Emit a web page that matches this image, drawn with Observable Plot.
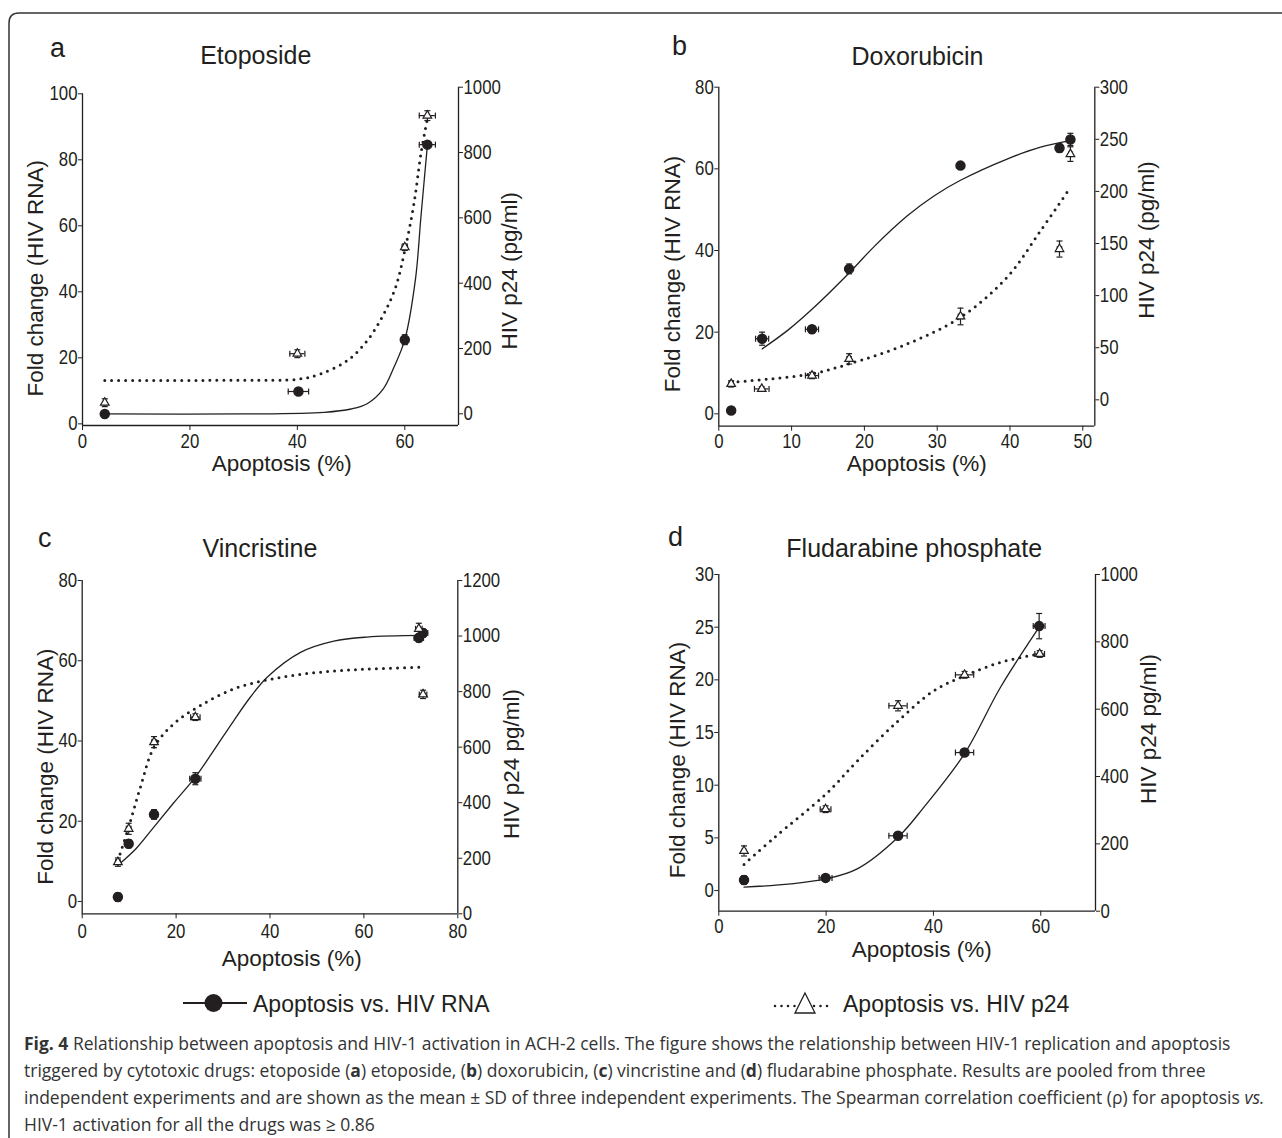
<!DOCTYPE html>
<html><head><meta charset="utf-8">
<script src="https://cdn.jsdelivr.net/npm/d3@7"></script>
<script src="https://cdn.jsdelivr.net/npm/@observablehq/plot@0.6"></script>
<style>
html,body{margin:0;padding:0;background:#fff;}
#fig{position:relative;width:1282px;height:1138px;overflow:hidden;background:#fff;}
#fig > svg{position:absolute;}
.pp text{font-family:'Liberation Sans',Arial,sans-serif;font-size:20px;fill:#231f20;}
</style></head><body><div id="fig"></div>
<script>
// ---------------- DATA ----------------
// (a) Etoposide
const etoX      = [4.15, 40.2, 60.0, 64.2];
const etoXsd    = [0.3, 1.9, 0.4, 1.5];
const etoRNA    = [3.0, 9.8, 25.5, 84.6];
const etoRNAsd  = [0.8, 0.6, 1.5, 0.6];
const etoP24X   = [4.15, 40.0, 60.0, 64.2];
const etoP24Xsd = [0.2, 1.4, 0.5, 1.5];
const etoP24    = [34, 184, 510, 913];
const etoP24sd  = [12, 12, 10, 15];
const etoFitX      = [4.15, 30, 45, 50, 53, 56, 58, 60, 62, 63, 64.2];
const etoFitRNA    = [3.0, 3.0, 3.5, 4.5, 6.1, 10.6, 17.2, 25.5, 44, 62.6, 84.3];
const etoFitP24X   = [4.15, 30, 40.2, 44.3, 49.3, 53, 56.1, 58.3, 60, 61.7, 63.0, 64.2];
const etoFitP24    = [102, 103, 106, 122, 163, 224, 306, 388, 500, 643, 796, 903];

// (b) Doxorubicin
const doxX      = [1.7, 5.95, 12.8, 17.9, 33.2, 46.8, 48.3];
const doxXsd    = [0.3, 0.9, 0.9, 0.3, 0.3, 0.3, 0.2];
const doxRNA    = [0.8, 18.4, 20.7, 35.5, 60.8, 65.1, 67.2];
const doxRNAsd  = [0.3, 1.6, 0.8, 1.2, 0.6, 1.0, 1.5];
const doxP24X   = [1.7, 5.9, 12.8, 17.9, 33.2, 46.8, 48.3];
const doxP24Xsd = [0.3, 1.0, 0.9, 0.3, 0.3, 0.3, 0.2];
const doxP24    = [15.3, 10.5, 23.3, 39.3, 80, 144.7, 235.8];
const doxP24sd  = [3, 2, 3, 5, 8, 7.7, 7];
const doxFitX      = [5.95, 9.5, 12.8, 17.9, 21.3, 25.9, 29.5, 33.2, 39.6, 44.2, 48.3];
const doxFitRNA    = [15.9, 20.5, 25.6, 34.5, 40.9, 48.5, 53.3, 57.2, 62.4, 65.3, 66.9];
const doxFitP24X   = [1.7, 7.0, 12.8, 17.9, 25.9, 33.2, 39.6, 44.2, 48.3];
const doxFitP24    = [16.9, 20, 25, 34.5, 53.7, 79.2, 117.6, 162.3, 203.8];

// (c) Vincristine
const vinX      = [7.6, 9.9, 15.3, 24.1, 71.7, 72.6];
const vinXsd    = [0.3, 0.5, 0.5, 1.2, 1.0, 1.0];
const vinRNA    = [1.1, 14.4, 21.7, 30.6, 65.7, 66.9];
const vinRNAsd  = [1.0, 1.0, 1.2, 1.5, 1.0, 1.0];
const vinP24X   = [7.6, 9.9, 15.3, 24.1, 71.7, 72.6];
const vinP24Xsd = [0.5, 0.5, 0.5, 1.0, 0.7, 0.8];
const vinP24    = [186, 306, 618, 708, 1026, 790];
const vinP24sd  = [15, 20, 20, 12, 20, 15];
const vinFitX      = [7.6, 11.5, 15.3, 19.5, 24.1, 28.0, 32.3, 35.8, 39.4, 46.5, 53.6, 60.7, 72.4];
const vinFitRNA    = [9.0, 13.2, 18.6, 24.6, 31.0, 37.6, 45.1, 50.9, 55.9, 62.1, 64.9, 65.9, 66.3];
const vinFitP24X   = [7.6, 9.9, 12.4, 15.3, 19.5, 25.2, 32.3, 39.4, 46.5, 53.6, 60.7, 72.4];
const vinFitP24    = [192, 312, 456, 600, 684, 750, 810, 842, 862, 874, 881, 888];

// (d) Fludarabine phosphate
const fluX      = [4.7, 19.9, 33.4, 45.8, 59.7];
const fluXsd    = [0.3, 1.2, 1.7, 1.7, 1.1];
const fluRNA    = [1.0, 1.2, 5.2, 13.1, 25.1];
const fluRNAsd  = [0.4, 0.3, 0.3, 0.3, 1.2];
const fluP24X   = [4.7, 19.9, 33.4, 45.8, 59.8];
const fluP24Xsd = [0.3, 1.0, 1.7, 1.7, 0.9];
const fluP24    = [179, 303, 610, 702, 764];
const fluP24sd  = [15, 10, 15, 10, 10];
const fluFitX      = [4.7, 13.4, 19.9, 25.8, 33.4, 38.2, 45.8, 52.5, 59.7];
const fluFitRNA    = [0.32, 0.63, 1.1, 2.06, 5.06, 7.9, 13.0, 19.3, 25.0];
const fluFitP24X   = [4.7, 10.3, 19.9, 25.8, 33.4, 40.1, 45.8, 52.5, 59.7];
const fluFitP24    = [139, 218, 347, 446, 565, 655, 699, 739, 764];

// tick labels
const etoXTicks = [0, 20, 40, 60];
const etoYTicks = [0, 20, 40, 60, 80, 100];
const etoRTicks = [0, 200, 400, 600, 800, 1000];
const doxXTicks = [0, 10, 20, 30, 40, 50];
const doxYTicks = [0, 20, 40, 60, 80];
const doxRTicks = [0, 50, 100, 150, 200, 250, 300];
const vinXTicks = [0, 20, 40, 60, 80];
const vinYTicks = [0, 20, 40, 60, 80];
const vinRTicks = [0, 200, 400, 600, 800, 1000, 1200];
const fluXTicks = [0, 20, 40, 60];
const fluYTicks = [0, 5, 10, 15, 20, 25, 30];
const fluRTicks = [0, 200, 400, 600, 800, 1000];

const titles  = ["Etoposide", "Doxorubicin", "Vincristine", "Fludarabine phosphate"];
const letters = ["a", "b", "c", "d"];
const xLabel  = "Apoptosis (%)";
const yLabel  = "Fold change (HIV RNA)";
const rLabels = ["HIV p24 (pg/ml)", "HIV p24 (pg/ml)", "HIV p24 pg/ml)", "HIV p24 pg/ml)"];
const legendLabels = ["Apoptosis vs. HIV RNA", "Apoptosis vs. HIV p24"];

// ---------------- helpers ----------------
const INK = "#231f20";
const FONT = "'Liberation Sans', Arial, sans-serif";
const fig = document.getElementById("fig");

const pts = (xs, ys, exs, eys) => xs.map((x, i) => ({x, y: ys[i], ex: exs[i], ey: eys[i]}));
const curve = (xs, ys) => xs.map((x, i) => ({x, y: ys[i]}));

const capH = {draw(ctx, size) { const r = Math.sqrt(size / Math.PI); ctx.moveTo(-r, 0); ctx.lineTo(r, 0); }};
const capV = {draw(ctx, size) { const r = Math.sqrt(size / Math.PI); ctx.moveTo(0, -r); ctx.lineTo(0, r); }};

function errorMarks(data) {
  const s = {stroke: INK, strokeWidth: 1.2};
  const c = {stroke: INK, strokeWidth: 1.2, fill: "none", r: 3};
  return [
    Plot.ruleX(data, {x: "x", y1: d => d.y - d.ey, y2: d => d.y + d.ey, ...s}),
    Plot.dot(data, {x: "x", y: d => d.y - d.ey, symbol: capH, ...c}),
    Plot.dot(data, {x: "x", y: d => d.y + d.ey, symbol: capH, ...c}),
    Plot.ruleY(data, {y: "y", x1: d => d.x - d.ex, x2: d => d.x + d.ex, ...s}),
    Plot.dot(data, {x: d => d.x - d.ex, y: "y", symbol: capV, ...c}),
    Plot.dot(data, {x: d => d.x + d.ex, y: "y", symbol: capV, ...c})
  ];
}

function place(svg, ox, oy) {
  svg.style.left = ox + "px";
  svg.style.top = oy + "px";
  fig.appendChild(svg);
}

function panel(cfg) {
  const common = {
    width: cfg.w, height: cfg.h, marginLeft: cfg.mL, marginRight: cfg.mR, className: "pp",
    style: {background: "transparent", color: INK, overflow: "visible", maxWidth: "none"}
  };
  const [x0, x1] = cfg.xDomain;
  const L = cfg.left, R = cfg.right;
  const p1 = Plot.plot({
    ...common, marginTop: L.mT, marginBottom: L.mB,
    x: {domain: cfg.xDomain}, y: {domain: L.domain},
    marks: [
      Plot.ruleX([{x: x0, a: L.domain[0], b: L.domain[1]}], {x: "x", y1: "a", y2: "b", stroke: INK, strokeWidth: 1.3}),
      Plot.ruleY([{y: L.domain[0], a: x0, b: x1}], {y: "y", x1: "a", x2: "b", stroke: INK, strokeWidth: 1.3}),
      Plot.axisX({ticks: cfg.xTicks, tickSize: 5, tickPadding: cfg.xPad || 3, tickFormat: "d", label: null, stroke: INK, fill: INK}),
      Plot.axisY({ticks: L.ticks, tickSize: 4, tickPadding: 1, tickFormat: "d", label: null, stroke: INK, fill: INK}),
      ...errorMarks(cfg.rna),
      Plot.line(cfg.fitRNA, {x: "x", y: "y", curve: "catmull-rom", stroke: INK, strokeWidth: 1.3}),
      Plot.dot(cfg.rna, {x: "x", y: "y", r: 4.5, fill: INK, stroke: INK})
    ]
  });
  const p2 = Plot.plot({
    ...common, marginTop: R.mT, marginBottom: R.mB,
    x: {domain: cfg.xDomain, axis: null}, y: {domain: R.domain},
    marks: [
      Plot.ruleX([{x: x1, a: R.domain[0], b: R.domain[1]}], {x: "x", y1: "a", y2: "b", stroke: INK, strokeWidth: 1.3}),
      Plot.axisY({anchor: "right", ticks: R.ticks, tickSize: 4, tickPadding: 1, tickFormat: "d", label: null, stroke: INK, fill: INK}),
      ...errorMarks(cfg.p24),
      Plot.line(cfg.fitP24, {x: "x", y: "y", curve: "catmull-rom", stroke: INK, strokeWidth: 3, strokeDasharray: "0,7", strokeLinecap: "round"}),
      Plot.dot(cfg.p24, {x: "x", y: "y", symbol: "triangle", r: 3.2, fill: "white", stroke: INK, strokeWidth: 1.2})
    ]
  });
  place(p1, cfg.ox, cfg.oy);
  place(p2, cfg.ox, cfg.oy);
}

panel({ox: 0, oy: 0, w: 640, h: 490, mL: 82, mR: 182, xDomain: [0, 70], xTicks: etoXTicks,
  left: {domain: [-0.5, 100], ticks: etoYTicks, mT: 93.3, mB: 65},
  right: {domain: [-35.8, 1000], ticks: etoRTicks, mT: 86.7, mB: 65},
  rna: pts(etoX, etoRNA, etoXsd, etoRNAsd), p24: pts(etoP24X, etoP24, etoP24Xsd, etoP24sd),
  fitRNA: curve(etoFitX, etoFitRNA), fitP24: curve(etoFitP24X, etoFitP24)});

panel({ox: 640, oy: 0, w: 642, h: 490, mL: 78.3, mR: 187.7, xDomain: [0, 51.65], xTicks: doxXTicks,
  left: {domain: [-3.03, 80], ticks: doxYTicks, mT: 86.7, mB: 64.3},
  right: {domain: [-25.3, 300], ticks: doxRTicks, mT: 86.7, mB: 64.3},
  rna: pts(doxX, doxRNA, doxXsd, doxRNAsd), p24: pts(doxP24X, doxP24, doxP24Xsd, doxP24sd),
  fitRNA: curve(doxFitX, doxFitRNA), fitP24: curve(doxFitP24X, doxFitP24)});

panel({ox: 0, oy: 490, w: 640, h: 490, mL: 81.7, mR: 182.7, xDomain: [0, 80], xTicks: vinXTicks, xPad: 5,
  left: {domain: [-3.07, 80], ticks: vinYTicks, mT: 90, mB: 66.7},
  right: {domain: [0, 1200], ticks: vinRTicks, mT: 90, mB: 66.7},
  rna: pts(vinX, vinRNA, vinXsd, vinRNAsd), p24: pts(vinP24X, vinP24, vinP24Xsd, vinP24sd),
  fitRNA: curve(vinFitX, vinFitRNA), fitP24: curve(vinFitP24X, vinFitP24)});

panel({ox: 640, oy: 490, w: 642, h: 490, mL: 78.3, mR: 187, xDomain: [0, 70.2], xTicks: fluXTicks,
  left: {domain: [-1.96, 30], ticks: fluYTicks, mT: 84, mB: 69.3},
  right: {domain: [0, 1000], ticks: fluRTicks, mT: 84, mB: 69.3},
  rna: pts(fluX, fluRNA, fluXsd, fluRNAsd), p24: pts(fluP24X, fluP24, fluP24Xsd, fluP24sd),
  fitRNA: curve(fluFitX, fluFitRNA), fitP24: curve(fluFitP24X, fluFitP24)});

// narrow (condensed-looking) tick labels, as in the reference
document.querySelectorAll(".pp g[aria-label*='tick label'] text").forEach(t => {
  const w = t.getComputedTextLength();
  if (w > 0) {
    t.setAttribute("textLength", (w * 0.84).toFixed(2));
    t.setAttribute("lengthAdjust", "spacingAndGlyphs");
  }
});

// ---------------- text overlay ----------------
const svg = d3.select(fig).append("svg")
  .attr("width", 1282).attr("height", 1138)
  .style("left", "0px").style("top", "0px").style("pointer-events", "none");

svg.append("path").attr("d", "M9,1140 V23 Q9,13 19,13 H1284")
  .attr("fill", "none").attr("stroke", "#333").attr("stroke-width", 1.5);

function txt(s, x, y, size, opts = {}) {
  const t = svg.append("text").attr("x", x).attr("y", y)
    .attr("font-family", opts.family || FONT).attr("font-size", size)
    .attr("fill", INK).attr("text-anchor", opts.anchor || "middle").text(s);
  if (opts.rotate) t.attr("transform", `rotate(${opts.rotate},${x},${y})`);
  return t;
}

const letterPos = [[50, 57], [672, 55], [38, 546.5], [668, 546]];
letters.forEach((l, i) => txt(l, letterPos[i][0], letterPos[i][1], 27, {anchor: "start"}));
const titlePos = [[255.8, 64.3], [917.5, 65], [260, 556.7], [914.2, 557.3]];
titles.forEach((t, i) => txt(t, titlePos[i][0], titlePos[i][1], 25));
const xLabPos = [[281.7, 470.7], [916.7, 470.5], [291.7, 966], [921.7, 956.7]];
xLabPos.forEach(p => txt(xLabel, p[0], p[1], 22.5));
const yLabPos = [[43.3, 278.3], [680, 274], [53.3, 766.7], [685, 760]];
yLabPos.forEach(p => txt(yLabel, p[0], p[1], 22.5, {rotate: -90}));
const rLabPos = [[517.5, 270.7], [1154, 240], [519, 764], [1155.5, 729]];
rLabPos.forEach((p, i) => txt(rLabels[i], p[0], p[1], 22.5, {rotate: -90}));

// legend
svg.append("line").attr("x1", 183).attr("x2", 247).attr("y1", 1003).attr("y2", 1003)
  .attr("stroke", INK).attr("stroke-width", 2);
svg.append("circle").attr("cx", 213.5).attr("cy", 1003).attr("r", 9).attr("fill", INK);
txt(legendLabels[0], 253, 1011.7, 23, {anchor: "start"});
svg.append("line").attr("x1", 775).attr("x2", 829).attr("y1", 1006).attr("y2", 1006)
  .attr("stroke", INK).attr("stroke-width", 2.6).attr("stroke-dasharray", "0,6.5").attr("stroke-linecap", "round");
svg.append("path").attr("d", "M805,993 L815,1013 L795,1013 Z")
  .attr("fill", "white").attr("stroke", INK).attr("stroke-width", 1.3);
txt(legendLabels[1], 843, 1011.7, 23, {anchor: "start"});

// caption
const captionLines = [
  [["Fig. 4", "b"], [" Relationship between apoptosis and HIV-1 activation in ACH-2 cells. The figure shows the relationship between HIV-1 replication and apoptosis", ""]],
  [["triggered by cytotoxic drugs: etoposide (", ""], ["a", "b"], [") etoposide, (", ""], ["b", "b"], [") doxorubicin, (", ""], ["c", "b"], [") vincristine and (", ""], ["d", "b"], [") fludarabine phosphate. Results are pooled from three", ""]],
  [["independent experiments and are shown as the mean ± SD of three independent experiments. The Spearman correlation coefficient (ρ) for apoptosis ", ""], ["vs.", "i"]],
  [["HIV-1 activation for all the drugs was ≥ 0.86", ""]]
];
const capBase = [1049.7, 1076.5, 1103.5, 1131];
const capNodes = captionLines.map((line, i) => {
  const t = svg.append("text").attr("x", 0).attr("y", 0)
    .attr("font-family", "'Open Sans', 'Noto Sans', sans-serif").attr("font-size", 18.5)
    .attr("fill", "#333").attr("transform", `translate(24,${capBase[i]})`);
  line.forEach(([s, st]) => {
    const sp = t.append("tspan").text(s);
    if (st === "b") sp.attr("font-weight", "bold");
    if (st === "i") sp.attr("font-style", "italic");
  });
  return t;
});
const w1 = capNodes[0].node().getComputedTextLength();
const sx = w1 > 0 ? 1213 / w1 : 1;
capNodes.forEach((t, i) => t.attr("transform", `translate(24,${capBase[i]}) scale(${sx * 0.995},1)`));
</script></body></html>
